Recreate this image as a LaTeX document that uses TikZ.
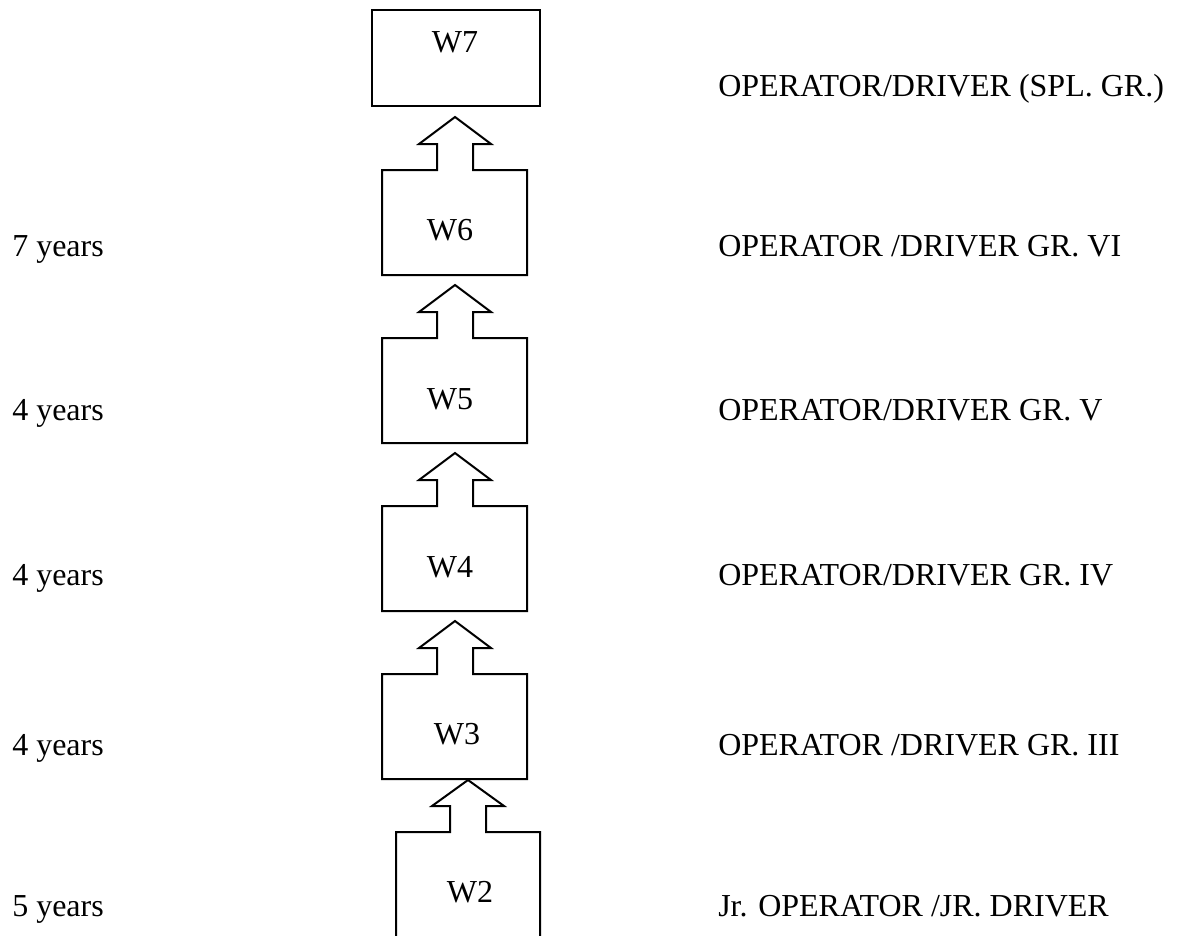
\documentclass[tikz,border=0pt]{standalone}
\usepackage{fontspec}
\setmainfont{Liberation Serif}
\begin{document}
\begin{tikzpicture}[x=0.75pt,y=-0.75pt,
  outl/.style={draw=black,line width=1.5pt,line join=miter},
  lbl/.style={anchor=base west,inner sep=0pt,font=\fontsize{24}{28}\selectfont},
  wtxt/.style={anchor=base,inner sep=0pt,font=\fontsize{24}{28}\selectfont}]
\useasboundingbox (0,0) rectangle (1180,935);
% W7
\draw[outl] (372,10) rectangle (540,106);
% W6 with arrow to W7
\draw[outl] (437,170) -- (382,170) -- (382,275) -- (527,275) -- (527,170) -- (473,170) -- (473,144) -- (491,144) -- (455,117) -- (419,144) -- (437,144) -- cycle;
% W5
\draw[outl] (437,338) -- (382,338) -- (382,443) -- (527,443) -- (527,338) -- (473,338) -- (473,312) -- (491,312) -- (455,285) -- (419,312) -- (437,312) -- cycle;
% W4
\draw[outl] (437,506) -- (382,506) -- (382,611) -- (527,611) -- (527,506) -- (473,506) -- (473,480) -- (491,480) -- (455,453) -- (419,480) -- (437,480) -- cycle;
% W3
\draw[outl] (437,674) -- (382,674) -- (382,779) -- (527,779) -- (527,674) -- (473,674) -- (473,648) -- (491,648) -- (455,621) -- (419,648) -- (437,648) -- cycle;
% W2
\draw[outl] (396,936) -- (396,832) -- (450,832) -- (450,806) -- (432,806) -- (468,780) -- (504,806) -- (486,806) -- (486,832) -- (540,832) -- (540,936);
% box texts
\node[wtxt] (w7) at (455,52) {W7};
\node[wtxt] (w6) at (450,240) {W6};
\node[wtxt] (w5) at (450,409) {W5};
\node[wtxt] (w4) at (450,577) {W4};
\node[wtxt] (w3) at (457,744) {W3};
\node[wtxt] (w2) at (470,902) {W2};
% left labels
\node[lbl] (y6) at (12,256) {7 years};
\node[lbl] (y5) at (12,420) {4 years};
\node[lbl] (y4) at (12,585) {4 years};
\node[lbl] (y3) at (12,755) {4 years};
\node[lbl] (y2) at (12,916) {5 years};
% right labels
\node[lbl] (r7) at (718,96) {OPERATOR/DRIVER (SPL. GR.)};
\node[lbl] (r6) at (718,256) {OPERATOR /DRIVER GR. VI};
\node[lbl] (r5) at (718,420) {OPERATOR/DRIVER GR. V};
\node[lbl] (r4) at (718,585) {OPERATOR/DRIVER GR. IV};
\node[lbl] (r3) at (718,755) {OPERATOR /DRIVER GR. III};
\node[lbl] (r2) at (718,916) {Jr. OPERATOR /JR. DRIVER};
\end{tikzpicture}
\end{document}
